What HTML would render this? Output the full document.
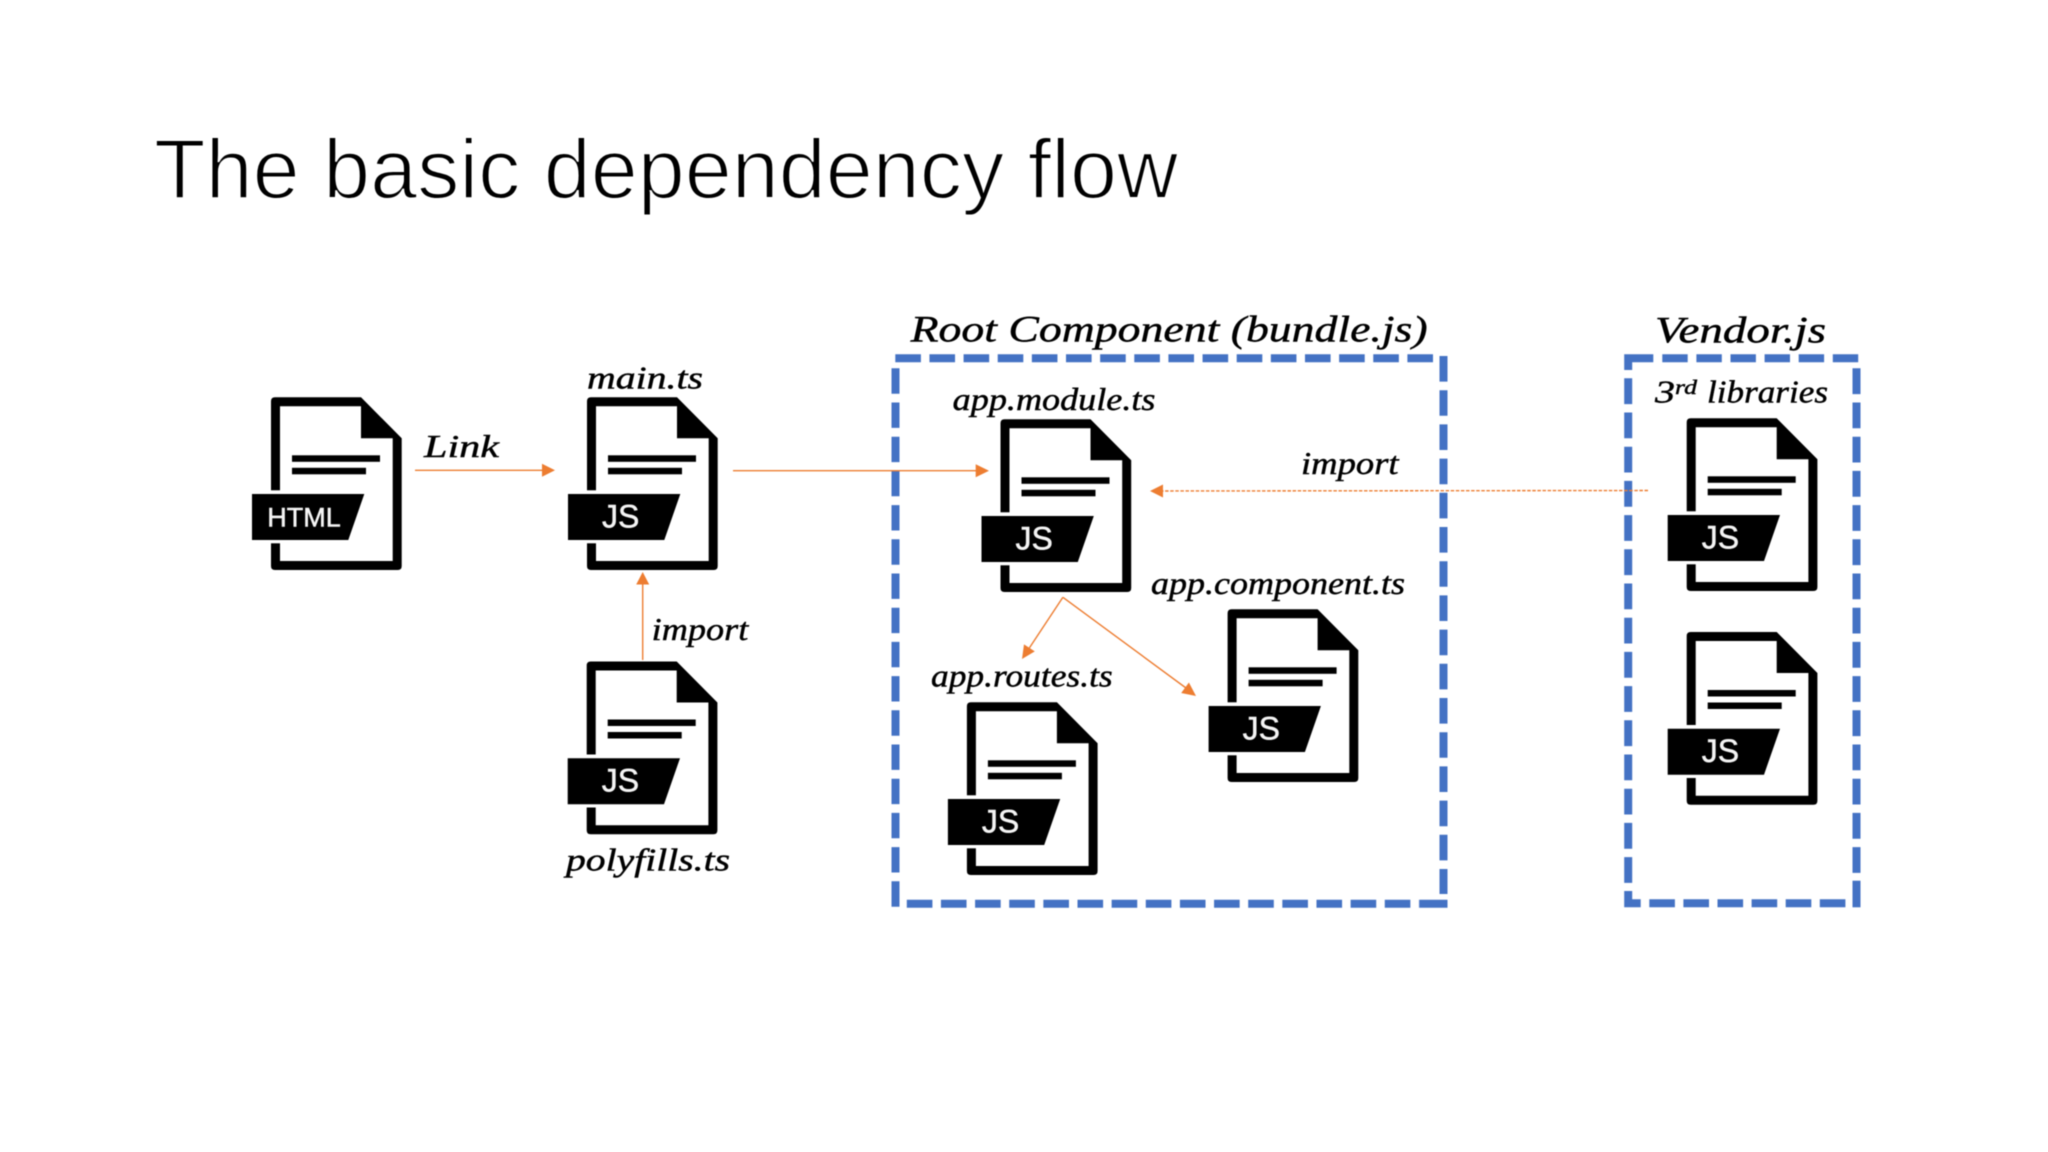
<!DOCTYPE html>
<html lang="en">
<head>
<meta charset="utf-8">
<title>The basic dependency flow</title>
<style>
html,body{margin:0;padding:0;background:#fff;width:2048px;height:1152px;overflow:hidden}
svg{display:block;filter:blur(.45px)}
.h{font-family:"Liberation Serif",serif;font-style:italic;fill:#000;stroke:#000;stroke-width:.45}
.b{font-family:"Liberation Sans",sans-serif;fill:#f4f4f4;stroke:#f4f4f4;stroke-width:.5;text-anchor:middle}
.o{stroke:#ED7D31;stroke-width:1.4;fill:none}
.a{fill:#ED7D31;stroke:none}
.bl{stroke:#4472C4;stroke-width:8;fill:none}
</style>
</head>
<body>
<svg width="2048" height="1152" viewBox="0 0 2048 1152" xmlns="http://www.w3.org/2000/svg">
<defs>
<g id="doc">
<path fill-rule="evenodd" fill="#000" d="M4,0H90L130.7,41V168.7Q130.7,172.7 126.7,172.7H4Q0,172.7 0,168.7V4Q0,0 4,0ZM9,9V163.7H121.7V41H90V9Z"/>
<rect x="21" y="58" width="88" height="6.5" fill="#000"/>
<rect x="21" y="70.5" width="74" height="6.5" fill="#000"/>
<rect x="-1" y="93" width="12" height="53" fill="#fff"/>
<polygon points="-19,96.7 93.3,96.7 77.3,142.7 -19,142.7" fill="#000"/>
</g>
</defs>
<rect width="2048" height="1152" fill="#fff"/>

<text x="154" y="198" font-family="Liberation Sans, sans-serif" font-size="84" fill="#000" stroke="#fff" stroke-width="1.9" textLength="1024" lengthAdjust="spacingAndGlyphs">The basic dependency flow</text>

<!-- dashed boxes -->
<line class="bl" x1="895.3" y1="358.3" x2="1433" y2="358.3" stroke-dasharray="25.6 8.54"/>
<line class="bl" x1="895.5" y1="368.3" x2="895.5" y2="907.5" stroke-dasharray="25.4 8.8"/>
<line class="bl" x1="1443.5" y1="356" x2="1443.5" y2="894" stroke-dasharray="25.6 8.6"/>
<line class="bl" x1="906.8" y1="903.8" x2="1419" y2="903.8" stroke-dasharray="25.6 8.54"/>
<line class="bl" x1="1419.2" y1="903.8" x2="1447.5" y2="903.8"/>

<path class="bl" d="M1653.3,358.3H1628.2V370"/>
<line class="bl" x1="1662.3" y1="358.3" x2="1860.7" y2="358.3" stroke-dasharray="25.4 8.7"/>
<line class="bl" x1="1628.2" y1="378.3" x2="1628.2" y2="884" stroke-dasharray="25.8 8.4"/>
<path class="bl" d="M1628.2,891V903.3H1640.7"/>
<line class="bl" x1="1649.3" y1="903.3" x2="1846" y2="903.3" stroke-dasharray="25.6 8.5"/>
<line class="bl" x1="1856.5" y1="368.3" x2="1856.5" y2="875" stroke-dasharray="25.8 8.4"/>
<line class="bl" x1="1856.5" y1="880.7" x2="1856.5" y2="907.3"/>

<!-- icons -->
<use href="#doc" transform="translate(271,397.3)"/>
<text class="b" x="304" y="526.3" font-size="27">HTML</text>
<use href="#doc" transform="translate(587,397.3)"/>
<text class="b" x="620.7" y="527.5" font-size="32">JS</text>
<use href="#doc" transform="translate(586.7,661.5)"/>
<text class="b" x="620.4" y="791.7" font-size="32">JS</text>
<use href="#doc" transform="translate(1000.5,419.3)"/>
<text class="b" x="1034.2" y="549.5" font-size="32">JS</text>
<use href="#doc" transform="translate(1227.6,609.3)"/>
<text class="b" x="1261.3" y="739.5" font-size="32">JS</text>
<use href="#doc" transform="translate(966.9,702.3)"/>
<text class="b" x="1000.6" y="832.5" font-size="32">JS</text>
<use href="#doc" transform="translate(1686.7,418.3)"/>
<text class="b" x="1720.4" y="548.5" font-size="32">JS</text>
<use href="#doc" transform="translate(1686.7,632)"/>
<text class="b" x="1720.4" y="762.2" font-size="32">JS</text>

<!-- connectors -->
<line class="o" x1="415" y1="470.3" x2="544" y2="470.3"/>
<polygon class="a" points="555,470.3 542,463.8 542,476.8"/>
<line class="o" x1="733" y1="470.7" x2="978" y2="470.7"/>
<polygon class="a" points="989,470.7 975.7,464.2 975.7,477.2"/>
<line class="o" x1="1648" y1="490.5" x2="1160" y2="491" stroke-dasharray="3.5 1.6"/>
<polygon class="a" points="1150,491 1163,484.5 1163,497.5"/>
<line class="o" x1="642.7" y1="660" x2="642.7" y2="582"/>
<polygon class="a" points="642.7,572 636.2,584.5 649.2,584.5"/>
<line class="o" x1="1062.9" y1="597.3" x2="1028" y2="650"/>
<polygon class="a" points="1022,659 1024,644.4 1034.8,651.4"/>
<line class="o" x1="1062.9" y1="597.3" x2="1186" y2="688"/>
<polygon class="a" points="1196,696 1181.2,693 1188.9,682.5"/>

<!-- labels -->
<text class="h" x="910.6" y="341.7" font-size="37" textLength="517" lengthAdjust="spacingAndGlyphs">Root Component (bundle.js)</text>
<text class="h" x="1655" y="342.3" font-size="37" textLength="171" lengthAdjust="spacingAndGlyphs">Vendor.js</text>
<text class="h" x="1655" y="402.7" font-size="32" textLength="20" lengthAdjust="spacingAndGlyphs">3</text>
<text class="h" x="1675" y="394" font-size="20" textLength="22" lengthAdjust="spacingAndGlyphs">rd</text>
<text class="h" x="1707" y="402.7" font-size="32" textLength="121" lengthAdjust="spacingAndGlyphs">libraries</text>
<text class="h" x="587" y="388.3" font-size="32" textLength="116" lengthAdjust="spacingAndGlyphs">main.ts</text>
<text class="h" x="424" y="457" font-size="32" textLength="75" lengthAdjust="spacingAndGlyphs">Link</text>
<text class="h" x="1301" y="474" font-size="32" textLength="97.6" lengthAdjust="spacingAndGlyphs">import</text>
<text class="h" x="651.7" y="640" font-size="32" textLength="96.6" lengthAdjust="spacingAndGlyphs">import</text>
<text class="h" x="952.7" y="410" font-size="32" textLength="202.8" lengthAdjust="spacingAndGlyphs">app.module.ts</text>
<text class="h" x="1151" y="594" font-size="32" textLength="254" lengthAdjust="spacingAndGlyphs">app.component.ts</text>
<text class="h" x="931" y="686.7" font-size="32" textLength="181.7" lengthAdjust="spacingAndGlyphs">app.routes.ts</text>
<text class="h" x="566" y="870.7" font-size="32" textLength="164" lengthAdjust="spacingAndGlyphs">polyfills.ts</text>
</svg>
</body>
</html>
